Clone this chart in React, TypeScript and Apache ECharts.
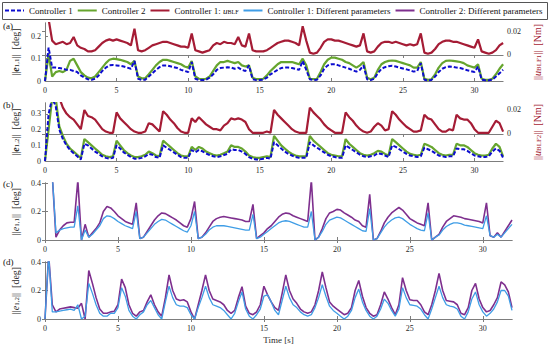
import React, { useEffect, useRef } from "react";
import * as echarts from "echarts";

// sampling step of the traces [s]
const STEP = 0.25;
const X_TICKS = [0, 5, 10, 15, 20, 25, 30];

// (a) ||e_1,1|| [deg] and ||u_BLF1|| [Nm]
const A_RED = [
  0.03, 0.03, 0.012, 0.009, 0.010, 0.011, 0.009, 0.010, 0.015, 0.008, 0.006, 0.005,
  0.003, 0.003, 0.004, 0.007, 0.010, 0.012, 0.013, 0.012, 0.013, 0.012, 0.011, 0.010,
  0.008, 0.022, 0.004, 0.003, 0.004, 0.006, 0.008, 0.009, 0.010, 0.011, 0.011, 0.010,
  0.009, 0.008, 0.007, 0.007, 0.006, 0.018, 0.004, 0.003, 0.002, 0.003, 0.004, 0.008,
  0.010, 0.009, 0.011, 0.010, 0.010, 0.009, 0.015, 0.008, 0.007, 0.018, 0.004, 0.003,
  0.003, 0.003, 0.004, 0.006, 0.008, 0.010, 0.011, 0.012, 0.012, 0.011, 0.010, 0.008,
  0.024, 0.012, 0.002, 0.001, 0.002, 0.006, 0.011, 0.013, 0.013, 0.012, 0.012, 0.011,
  0.010, 0.009, 0.008, 0.007, 0.008, 0.018, 0.003, 0.002, 0.003, 0.007, 0.010, 0.011,
  0.011, 0.010, 0.011, 0.010, 0.009, 0.008, 0.009, 0.008, 0.009, 0.018, 0.002, 0.001,
  0.002, 0.005, 0.009, 0.011, 0.012, 0.012, 0.011, 0.011, 0.010, 0.009, 0.008, 0.007,
  0.006, 0.013, 0.003, 0.002, 0.001, 0.002, 0.004, 0.008, 0.010,
];
const A_GREEN = [
  0.0, 0.12, 0.02, 0.04, 0.045, 0.04, 0.05, 0.09, 0.10, 0.07, 0.04, 0.025,
  0.015, 0.012, 0.02, 0.04, 0.06, 0.08, 0.095, 0.10, 0.098, 0.095, 0.09, 0.085,
  0.075, 0.09, 0.02, 0.012, 0.012, 0.03, 0.05, 0.07, 0.085, 0.095, 0.095, 0.09,
  0.085, 0.08, 0.075, 0.065, 0.06, 0.09, 0.02, 0.01, 0.008, 0.01, 0.02, 0.045,
  0.07, 0.085, 0.085, 0.09, 0.085, 0.08, 0.085, 0.07, 0.065, 0.07, 0.015, 0.008,
  0.008, 0.01, 0.025, 0.045, 0.06, 0.075, 0.085, 0.085, 0.085, 0.085, 0.08, 0.075,
  0.10, 0.07, 0.01, 0.008, 0.01, 0.04, 0.075, 0.095, 0.105, 0.105, 0.10, 0.095,
  0.085, 0.08, 0.07, 0.06, 0.07, 0.085, 0.015, 0.008, 0.015, 0.05, 0.075, 0.085,
  0.09, 0.092, 0.09, 0.085, 0.08, 0.075, 0.07, 0.06, 0.06, 0.085, 0.01, 0.005,
  0.008, 0.03, 0.06, 0.08, 0.09, 0.092, 0.09, 0.088, 0.085, 0.08, 0.07, 0.065,
  0.06, 0.075, 0.01, 0.005, 0.005, 0.01, 0.03, 0.055, 0.075,
];
const A_BLUE = [
  0.0, 0.15, 0.06, 0.06, 0.058, 0.055, 0.05, 0.05, 0.045, 0.04, 0.025, 0.015,
  0.008, 0.005, 0.01, 0.025, 0.045, 0.06, 0.07, 0.072, 0.07, 0.068, 0.065, 0.06,
  0.055, 0.09, 0.01, 0.005, 0.006, 0.02, 0.035, 0.05, 0.062, 0.07, 0.07, 0.066,
  0.062, 0.058, 0.05, 0.045, 0.04, 0.085, 0.01, 0.005, 0.004, 0.006, 0.015, 0.03,
  0.05, 0.058, 0.06, 0.062, 0.06, 0.055, 0.06, 0.05, 0.045, 0.07, 0.008, 0.004,
  0.004, 0.006, 0.015, 0.03, 0.04, 0.05, 0.058, 0.06, 0.06, 0.058, 0.055, 0.05,
  0.09, 0.05, 0.008, 0.004, 0.006, 0.025, 0.055, 0.07, 0.075, 0.075, 0.07, 0.065,
  0.06, 0.055, 0.048, 0.042, 0.05, 0.07, 0.008, 0.004, 0.01, 0.035, 0.055, 0.062,
  0.066, 0.068, 0.065, 0.06, 0.056, 0.052, 0.048, 0.042, 0.045, 0.08, 0.006, 0.003,
  0.005, 0.02, 0.04, 0.055, 0.062, 0.065, 0.064, 0.06, 0.058, 0.054, 0.048, 0.044,
  0.04, 0.065, 0.006, 0.003, 0.003, 0.006, 0.02, 0.035, 0.05,
];

// (b) ||e_1,2|| [deg] and ||u_BLF2|| [Nm]
const B_RED = [
  0.035, 0.035, 0.035, 0.035, 0.03, 0.022, 0.017, 0.014, 0.012, 0.008, 0.004, 0.02,
  0.015, 0.014, 0.012, 0.008, 0.004, 0.002, 0.001, 0.001, 0.018, 0.013, 0.01, 0.007,
  0.004, 0.002, 0.001, 0.001, 0.002, 0.009, 0.008, 0.005, 0.002, 0.019, 0.016, 0.012,
  0.009, 0.005, 0.002, 0.001, 0.001, 0.013, 0.01, 0.014, 0.011, 0.008, 0.006, 0.004,
  0.004, 0.003, 0.007, 0.009, 0.013, 0.012, 0.013, 0.012, 0.01, 0.004, 0.001, 0.001,
  0.001, 0.001, 0.002, 0.001, 0.02, 0.016, 0.013, 0.01, 0.007, 0.004, 0.002, 0.001,
  0.001, 0.001, 0.022, 0.018, 0.015, 0.012, 0.008, 0.005, 0.003, 0.001, 0.001, 0.001,
  0.018, 0.014, 0.011, 0.007, 0.004, 0.002, 0.001, 0.002, 0.006, 0.009, 0.007, 0.003,
  0.004, 0.019, 0.016, 0.012, 0.009, 0.006, 0.004, 0.002, 0.002, 0.003, 0.016, 0.013,
  0.012, 0.008, 0.004, 0.002, 0.002, 0.004, 0.003, 0.016, 0.013, 0.012, 0.012, 0.009,
  0.004, 0.001, 0.001, 0.001, 0.001, 0.006, 0.011, 0.009, 0.002,
];
const B_GREEN = [
  0.0, 0.2, 0.4, 0.4, 0.22, 0.16, 0.11, 0.08, 0.06, 0.04, 0.017, 0.14,
  0.12, 0.1, 0.08, 0.06, 0.04, 0.03, 0.025, 0.03, 0.13, 0.1, 0.07, 0.05,
  0.035, 0.025, 0.025, 0.03, 0.04, 0.06, 0.05, 0.035, 0.03, 0.13, 0.11, 0.09,
  0.07, 0.05, 0.035, 0.03, 0.03, 0.09, 0.07, 0.09, 0.08, 0.06, 0.05, 0.04,
  0.035, 0.04, 0.05, 0.06, 0.1, 0.09, 0.09, 0.08, 0.06, 0.035, 0.025, 0.02,
  0.02, 0.025, 0.03, 0.025, 0.16, 0.13, 0.1, 0.08, 0.06, 0.045, 0.035, 0.03,
  0.03, 0.03, 0.16, 0.13, 0.11, 0.09, 0.07, 0.05, 0.04, 0.035, 0.03, 0.03,
  0.14, 0.11, 0.09, 0.07, 0.05, 0.04, 0.035, 0.04, 0.05, 0.065, 0.06, 0.045,
  0.035, 0.14, 0.12, 0.1, 0.08, 0.06, 0.045, 0.04, 0.035, 0.04, 0.11, 0.1,
  0.09, 0.07, 0.05, 0.04, 0.035, 0.04, 0.04, 0.11, 0.1, 0.1, 0.09, 0.07,
  0.05, 0.04, 0.035, 0.035, 0.04, 0.08, 0.11, 0.09, 0.03,
];
const B_BLUE = [
  0.0, 0.3, 0.4, 0.35, 0.2, 0.14, 0.1, 0.07, 0.05, 0.03, 0.01, 0.11,
  0.1, 0.08, 0.06, 0.045, 0.03, 0.02, 0.015, 0.02, 0.1, 0.08, 0.055, 0.04,
  0.025, 0.015, 0.015, 0.02, 0.03, 0.045, 0.04, 0.025, 0.02, 0.1, 0.085, 0.07,
  0.055, 0.04, 0.025, 0.02, 0.02, 0.07, 0.055, 0.07, 0.062, 0.048, 0.038, 0.03,
  0.025, 0.03, 0.038, 0.045, 0.075, 0.07, 0.07, 0.06, 0.045, 0.025, 0.015, 0.01,
  0.01, 0.015, 0.02, 0.015, 0.12, 0.1, 0.08, 0.06, 0.045, 0.035, 0.025, 0.02,
  0.02, 0.02, 0.12, 0.1, 0.085, 0.07, 0.055, 0.04, 0.03, 0.025, 0.02, 0.02,
  0.1, 0.085, 0.07, 0.055, 0.04, 0.03, 0.025, 0.03, 0.035, 0.05, 0.045, 0.035,
  0.025, 0.1, 0.09, 0.075, 0.06, 0.045, 0.035, 0.03, 0.025, 0.03, 0.085, 0.075,
  0.065, 0.05, 0.035, 0.03, 0.025, 0.03, 0.03, 0.08, 0.075, 0.075, 0.065, 0.05,
  0.035, 0.03, 0.025, 0.025, 0.03, 0.06, 0.08, 0.065, 0.02,
];

// (c) ||e_1,1|| [deg], different parameters
const C_PURPLE = [
  0.45, 0.45, 0.45, 0.02, 0.07, 0.1, 0.12, 0.125, 0.125, 0.42, 0.0, 0.11,
  0.02, 0.05, 0.08, 0.12, 0.2, 0.235, 0.225, 0.2, 0.17, 0.15, 0.13, 0.12,
  0.11, 0.26, 0.01, 0.02, 0.06, 0.1, 0.14, 0.17, 0.19, 0.185, 0.17, 0.155,
  0.14, 0.12, 0.1, 0.09, 0.15, 0.27, 0.01, 0.02, 0.05, 0.09, 0.13, 0.15,
  0.16, 0.165, 0.16, 0.155, 0.15, 0.145, 0.14, 0.13, 0.13, 0.25, 0.01, 0.03,
  0.05, 0.08, 0.1, 0.13, 0.16, 0.18, 0.19, 0.185, 0.17, 0.16, 0.15, 0.14,
  0.13, 0.42, 0.0, 0.02, 0.08, 0.15, 0.19, 0.2, 0.215, 0.21, 0.19, 0.175,
  0.16, 0.14, 0.13, 0.1, 0.09, 0.32, 0.0, 0.01, 0.06, 0.12, 0.16, 0.19,
  0.21, 0.228, 0.21, 0.18, 0.15, 0.135, 0.12, 0.11, 0.1, 0.26, 0.0, 0.02,
  0.04, 0.09, 0.13, 0.15, 0.17, 0.165, 0.16, 0.15, 0.145, 0.14, 0.135, 0.13,
  0.12, 0.26, 0.03, 0.02, 0.05, 0.02, 0.06, 0.1, 0.14,
];
const C_LIGHT = [
  0.45, 0.45, 0.45, 0.05, 0.07, 0.08, 0.085, 0.09, 0.09, 0.24, 0.0, 0.07,
  0.02, 0.04, 0.07, 0.1, 0.15, 0.17, 0.165, 0.15, 0.13, 0.115, 0.1, 0.09,
  0.08, 0.2, 0.01, 0.02, 0.05, 0.08, 0.11, 0.13, 0.145, 0.14, 0.125, 0.11,
  0.095, 0.08, 0.065, 0.055, 0.1, 0.2, 0.01, 0.02, 0.04, 0.07, 0.09, 0.1,
  0.1, 0.1, 0.095, 0.09, 0.085, 0.08, 0.075, 0.07, 0.07, 0.18, 0.01, 0.02,
  0.04, 0.06, 0.08, 0.1, 0.12, 0.13, 0.135, 0.13, 0.12, 0.11, 0.1, 0.09,
  0.09, 0.2, 0.0, 0.02, 0.06, 0.11, 0.14, 0.15, 0.16, 0.155, 0.14, 0.125,
  0.11, 0.095, 0.08, 0.065, 0.06, 0.22, 0.0, 0.01, 0.05, 0.09, 0.12, 0.14,
  0.155, 0.16, 0.15, 0.13, 0.11, 0.095, 0.08, 0.07, 0.065, 0.19, 0.0, 0.02,
  0.035, 0.07, 0.095, 0.11, 0.12, 0.12, 0.115, 0.105, 0.1, 0.095, 0.09, 0.085,
  0.08, 0.17, 0.03, 0.02, 0.04, 0.02, 0.05, 0.08, 0.11,
];

// (d) ||e_1,2|| [deg], different parameters
const D_PURPLE = [
  0.0, 0.45, 0.1, 0.05, 0.07, 0.075, 0.08, 0.085, 0.08, 0.075, 0.11, 0.0,
  0.34, 0.25, 0.15, 0.07, 0.04, 0.04, 0.05, 0.055, 0.1, 0.28, 0.22, 0.1,
  0.04, 0.02, 0.05, 0.06, 0.12, 0.17, 0.1, 0.05, 0.02, 0.15, 0.31, 0.2,
  0.14, 0.13, 0.135, 0.12, 0.05, 0.0, 0.1, 0.2, 0.31, 0.2, 0.14, 0.13,
  0.12, 0.1, 0.06, 0.04, 0.06, 0.15, 0.227, 0.09, 0.04, 0.03, 0.05, 0.1,
  0.23, 0.17, 0.12, 0.08, 0.06, 0.18, 0.31, 0.2, 0.14, 0.11, 0.07, 0.05,
  0.04, 0.05, 0.1, 0.2, 0.33, 0.22, 0.12, 0.09, 0.07, 0.05, 0.03, 0.04,
  0.08, 0.2, 0.27, 0.16, 0.08, 0.04, 0.02, 0.03, 0.1, 0.19, 0.14, 0.08,
  0.03, 0.1, 0.29, 0.2, 0.135, 0.13, 0.13, 0.1, 0.05, 0.03, 0.1, 0.2,
  0.32, 0.2, 0.13, 0.125, 0.12, 0.1, 0.04, 0.03, 0.08, 0.2, 0.25, 0.14,
  0.08, 0.05, 0.06, 0.1, 0.15, 0.26, 0.24, 0.19, 0.08,
];
const D_LIGHT = [
  0.0, 0.45, 0.05, 0.05, 0.055, 0.06, 0.065, 0.07, 0.06, 0.1, 0.0, 0.02,
  0.25, 0.18, 0.1, 0.04, 0.02, 0.02, 0.04, 0.04, 0.08, 0.22, 0.16, 0.06,
  0.02, 0.0, 0.03, 0.05, 0.1, 0.13, 0.08, 0.03, 0.0, 0.12, 0.23, 0.15,
  0.1, 0.09, 0.09, 0.08, 0.03, 0.0, 0.08, 0.15, 0.23, 0.15, 0.1, 0.09,
  0.08, 0.06, 0.03, 0.0, 0.04, 0.12, 0.19, 0.07, 0.02, 0.0, 0.03, 0.07,
  0.16, 0.17, 0.12, 0.06, 0.03, 0.13, 0.23, 0.15, 0.1, 0.08, 0.05, 0.03,
  0.02, 0.03, 0.08, 0.15, 0.24, 0.16, 0.09, 0.06, 0.04, 0.02, 0.0, 0.02,
  0.06, 0.15, 0.21, 0.12, 0.06, 0.02, 0.0, 0.02, 0.07, 0.14, 0.11, 0.06,
  0.02, 0.07, 0.22, 0.15, 0.1, 0.095, 0.09, 0.07, 0.03, 0.0, 0.07, 0.15,
  0.23, 0.15, 0.1, 0.09, 0.085, 0.07, 0.02, 0.0, 0.05, 0.14, 0.19, 0.1,
  0.05, 0.02, 0.04, 0.07, 0.12, 0.2, 0.2, 0.16, 0.06,
];

const NAME_C1 = "Controller 1";
const NAME_C2 = "Controller 2";
const NAME_U = "Controller 1: uBLF";
const NAME_C1D = "Controller 1: Different parameters";
const NAME_C2D = "Controller 2: Different parameters";

const COL_BLUE = "#0c0ccf";
const COL_GREEN = "#66a52e";
const COL_RED = "#a51c35";
const COL_LIGHT = "#3f9de6";
const COL_PURPLE = "#7e2f8e";
const COL_AXIS = "#7d7d7d";
const COL_TEXT = "#2a2a2a";
const FONT = "Liberation Serif";

const pairs = (vals: number[]) => vals.map((v, i) => [i * STEP, v]);

export default function App() {
  const ref = useRef<HTMLDivElement>(null);
  useEffect(() => {
    if (!ref.current) return;
    const chart = echarts.init(ref.current, undefined, { renderer: "svg" });

    const grids = [
      { left: 45, top: 23, width: 467, height: 58 },
      { left: 45, top: 103, width: 467, height: 58 },
      { left: 45, top: 183, width: 467, height: 57 },
      { left: 45, top: 262, width: 467, height: 57 },
    ];

    const richName = {
      t: { fontFamily: FONT, fontSize: 10, color: COL_TEXT },
      b: { fontFamily: FONT, fontSize: 10, fontWeight: "bold", fontStyle: "italic", color: COL_TEXT },
      i: { fontFamily: FONT, fontSize: 10, fontStyle: "italic", color: COL_TEXT },
      s: { fontFamily: FONT, fontSize: 7, color: COL_TEXT, verticalAlign: "bottom", padding: [3, 0, 0, 0] },
      rt: { fontFamily: FONT, fontSize: 10, color: COL_RED },
      ri: { fontFamily: FONT, fontSize: 10, fontStyle: "italic", color: COL_RED },
      rs: { fontFamily: FONT, fontSize: 7, color: COL_RED, verticalAlign: "bottom", padding: [3, 0, 0, 0] },
    };

    const xAxes: any[] = [];
    const yAxes: any[] = [];
    const yCfg = [
      { min: 0, max: 0.26, ticks: [0, 0.1, 0.2], name: "{t|||}{b|e}{s|1,1}{t|||  [deg]}", rmin: -0.0217, rmax: 0.0267, rname: "{rt|||}{ri|u}{rs|BLF1}{rt|||  [Nm]}" },
      { min: 0, max: 0.37, ticks: [0, 0.1, 0.2, 0.3], name: "{t|||}{b|e}{s|1,2}{t|||  [deg]}", rmin: -0.0225, rmax: 0.0258, rname: "{rt|||}{ri|u}{rs|BLF2}{rt|||  [Nm]}" },
      { min: 0, max: 0.4, ticks: [0, 0.2, 0.4], name: "{t|||}{i|e}{s|1,1}{t|||  [deg]}" },
      { min: 0, max: 0.4, ticks: [0, 0.2, 0.4], name: "{t|||}{i|e}{s|1,2}{t|||  [deg]}" },
    ];
    const lineStyleAxis = { show: true, lineStyle: { color: COL_AXIS, width: 1 } };
    const labelBase = { fontFamily: FONT, fontSize: 8, color: COL_TEXT };

    grids.forEach((g, gi) => {
      xAxes.push({
        type: "value", gridIndex: gi, min: 0, max: 32, position: "bottom",
        axisLine: lineStyleAxis,
        axisTick: { show: true, inside: true, length: 3, customValues: X_TICKS, lineStyle: { color: COL_AXIS } },
        axisLabel: { ...labelBase, margin: 5, customValues: X_TICKS },
        splitLine: { show: false },
        ...(gi === 3
          ? { name: "Time [s]", nameLocation: "middle", nameGap: 16, nameTextStyle: { fontFamily: FONT, fontSize: 9, color: COL_TEXT } }
          : {}),
      });
      xAxes.push({
        type: "value", gridIndex: gi, min: 0, max: 32, position: "top",
        axisLine: lineStyleAxis,
        axisTick: { show: true, inside: true, length: 3, customValues: X_TICKS, lineStyle: { color: COL_AXIS } },
        axisLabel: { show: false },
        splitLine: { show: false },
      });
      const c = yCfg[gi];
      yAxes.push({
        type: "value", gridIndex: gi, min: c.min, max: c.max, position: "left",
        axisLine: lineStyleAxis,
        axisTick: { show: true, inside: true, length: 3, customValues: c.ticks, lineStyle: { color: COL_AXIS } },
        axisLabel: { ...labelBase, margin: 4, customValues: c.ticks },
        splitLine: { show: false },
        name: c.name, nameLocation: "middle", nameRotate: 90, nameGap: 4,
        nameTextStyle: { fontFamily: FONT, fontSize: 10, color: COL_TEXT, rich: richName },
      });
      if (c.rmin !== undefined) {
        yAxes.push({
          type: "value", gridIndex: gi, min: c.rmin, max: c.rmax, position: "right",
          axisLine: lineStyleAxis,
          axisTick: { show: true, inside: true, length: 3, customValues: [0, 0.02], lineStyle: { color: COL_AXIS } },
          axisLabel: { ...labelBase, margin: 4, customValues: [0, 0.02] },
          splitLine: { show: false },
          name: c.rname, nameLocation: "middle", nameRotate: 90, nameGap: 25,
          nameTextStyle: { fontFamily: FONT, fontSize: 10, color: COL_RED, rich: richName },
        });
      } else {
        yAxes.push({
          type: "value", gridIndex: gi, min: c.min, max: c.max, position: "right",
          axisLine: lineStyleAxis,
          axisTick: { show: true, inside: true, length: 3, customValues: c.ticks, lineStyle: { color: COL_AXIS } },
          axisLabel: { show: false },
          splitLine: { show: false },
        });
      }
    });

    const line = (name: string, data: number[], gi: number, right: boolean, color: string, width: number, dashed = false) => ({
      type: "line", name, data: pairs(data), xAxisIndex: gi * 2, yAxisIndex: gi * 2 + (right ? 1 : 0),
      showSymbol: false, symbol: "none", clip: true,
      lineStyle: { color, width, type: dashed ? [4, 2] : "solid" },
      itemStyle: { color },
    });

    const series = [
      line(NAME_U, A_RED, 0, true, COL_RED, 2.2),
      line(NAME_C2, A_GREEN, 0, false, COL_GREEN, 2.2),
      line(NAME_C1, A_BLUE, 0, false, COL_BLUE, 2, true),
      line(NAME_U, B_RED, 1, true, COL_RED, 2.2),
      line(NAME_C2, B_GREEN, 1, false, COL_GREEN, 2.2),
      line(NAME_C1, B_BLUE, 1, false, COL_BLUE, 2, true),
      line(NAME_C2D, C_PURPLE, 2, false, COL_PURPLE, 1.6),
      line(NAME_C1D, C_LIGHT, 2, false, COL_LIGHT, 1.3),
      line(NAME_C2D, D_PURPLE, 3, false, COL_PURPLE, 1.6),
      line(NAME_C1D, D_LIGHT, 3, false, COL_LIGHT, 1.3),
    ];

    const panelLabel = (txt: string, y: number) => ({
      type: "text", x: 3, y, style: { text: txt, fontFamily: FONT, fontSize: 9, fill: "#111", textVerticalAlign: "middle" },
    });

    chart.setOption({
      animation: false,
      backgroundColor: "#fff",
      grid: grids,
      xAxis: xAxes,
      yAxis: yAxes,
      series,
      legend: {
        data: [NAME_C1, NAME_C2, NAME_U, NAME_C1D, NAME_C2D],
        left: 4, top: 6, orient: "horizontal", width: 700,
        itemWidth: 19, itemHeight: 8, itemGap: 4, padding: 0,
        selectedMode: false,
        itemStyle: { opacity: 0, borderWidth: 0 },
        formatter: (n: string) => (n === NAME_U ? "{t|Controller 1: }{u|u}{s|BLF}" : `{t|${n}}`),
        textStyle: {
          fontFamily: FONT, fontSize: 9, color: "#111",
          rich: {
            t: { fontFamily: FONT, fontSize: 9, color: "#111" },
            u: { fontFamily: FONT, fontSize: 9, fontStyle: "italic", color: "#111" },
            s: { fontFamily: FONT, fontSize: 6, color: "#111", verticalAlign: "bottom", padding: [3, 0, 0, 0] },
          },
        },
      },
      graphic: [
        { type: "rect", shape: { x: 2.5, y: 2.5, width: 545, height: 17 }, style: { fill: "#fff", stroke: "#555", lineWidth: 1 }, z: -10 },
        panelLabel("(a)", 26),
        panelLabel("(b)", 105),
        panelLabel("(c)", 184),
        panelLabel("(d)", 262),
      ],
    });
    return () => chart.dispose();
  }, []);
  return (
    <div
      ref={ref}
      style={{ position: "fixed", left: 0, top: 0, width: 550, height: 349, background: "#fff" }}
    />
  );
}
